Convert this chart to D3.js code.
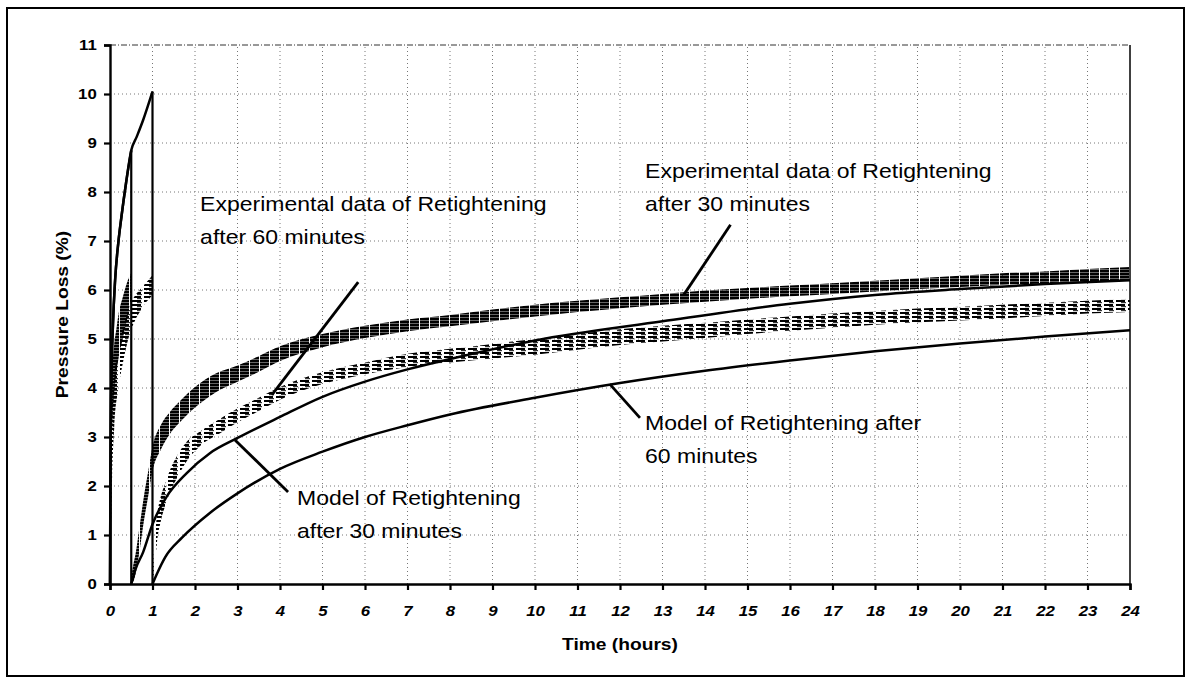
<!DOCTYPE html>
<html>
<head>
<meta charset="utf-8">
<script src="https://cdn.jsdelivr.net/npm/d3@7"></script>
<style>
body { margin: 0; background: #fff; }
text { font-family: Arial, "Liberation Sans", sans-serif; fill: #000; }
</style>
</head>
<body>
<script>
// Ticks
const xTicks = [0, 1, 2, 3, 4, 5, 6, 7, 8, 9, 10, 11, 12, 13, 14, 15, 16, 17, 18, 19, 20, 21, 22, 23, 24]
const yTicks = [0, 1, 2, 3, 4, 5, 6, 7, 8, 9, 10, 11]

// Modele : retightening après 30 minutes (avant / après)
const model30BeforeTime = [0, 0.01, 0.03, 0.07, 0.12, 0.2, 0.27, 0.38, 0.5]
const model30BeforeLoss = [0, 2.2, 4.0, 5.3, 6.2, 7.0, 7.5, 8.2, 8.85]
const model30AfterTime = [0.5, 0.6, 0.78, 1, 1.33, 1.8, 2.35, 3, 4, 5, 6, 7, 8, 10, 13, 16, 18, 20, 22, 24]
const model30AfterLoss = [0, 0.3, 0.65, 1.22, 1.78, 2.26, 2.67, 2.98, 3.41, 3.82, 4.13, 4.38, 4.59, 4.97, 5.36, 5.72, 5.9, 6.02, 6.12, 6.2]

// Modele : retightening après 60 minutes
const model60BeforeTime = [0, 0.01, 0.03, 0.07, 0.12, 0.2, 0.27, 0.38, 0.5, 0.63, 0.78, 1]
const model60BeforeLoss = [0, 2.2, 4.0, 5.3, 6.2, 7.0, 7.5, 8.2, 8.85, 9.13, 9.47, 10.05]
const model60AfterTime = [1, 1.1, 1.3, 1.7, 2.35, 3, 4, 5, 6, 7, 8, 10, 12, 14, 16, 18, 20, 22, 24]
const model60AfterLoss = [0, 0.2, 0.55, 0.95, 1.45, 1.85, 2.35, 2.7, 3.0, 3.24, 3.46, 3.8, 4.1, 4.35, 4.56, 4.75, 4.91, 5.05, 5.18]

const exp30BeforeTime = [0, 0.01, 0.03, 0.06, 0.1, 0.15, 0.2, 0.3, 0.4, 0.5]
const exp30BeforeLow = [0, 1.2, 2.5, 3.4, 3.9, 4.3, 4.6, 5.0, 5.4, 5.8]
const exp30BeforeHigh = [0, 3.2, 4.0, 4.5, 4.9, 5.2, 5.5, 5.85, 6.15, 6.35]

const exp60BeforeTime = [0, 0.02, 0.05, 0.1, 0.2, 0.3, 0.4, 0.5, 0.6, 0.7, 0.8, 0.9, 1]
const exp60BeforeLow = [0, 1.0, 2.2, 3.2, 4.0, 4.5, 4.9, 5.2, 5.4, 5.55, 5.7, 5.8, 5.9]
const exp60BeforeHigh = [0, 2.5, 3.5, 4.2, 4.8, 5.2, 5.5, 5.75, 5.9, 6.0, 6.1, 6.2, 6.3]

const exp30AfterTime = [0.5, 0.55, 0.6, 0.7, 0.8, 0.9, 1.0, 1.2, 1.4, 1.7, 2.0, 2.5, 3, 3.5, 4, 5, 6, 7, 8, 9, 10, 11, 12, 13, 14, 15, 16, 17, 18, 19, 20, 21, 22, 23, 24]
const exp30AfterLow = [0, 0.05, 0.2, 0.7, 1.3, 1.8, 2.3, 2.75, 3.05, 3.35, 3.6, 3.92, 4.13, 4.33, 4.55, 4.83, 5.02, 5.16, 5.26, 5.36, 5.46, 5.55, 5.63, 5.7, 5.76, 5.82, 5.87, 5.92, 5.97, 6.02, 6.06, 6.1, 6.14, 6.17, 6.2]
const exp30AfterHigh = [0.15, 0.4, 0.6, 1.2, 1.8, 2.3, 2.8, 3.25, 3.5, 3.78, 4.02, 4.3, 4.46, 4.65, 4.85, 5.1, 5.27, 5.4, 5.49, 5.6, 5.7, 5.78, 5.85, 5.92, 5.99, 6.04, 6.09, 6.14, 6.19, 6.24, 6.29, 6.34, 6.38, 6.43, 6.47]

const exp60AfterTime = [1.0, 1.05, 1.1, 1.2, 1.3, 1.4, 1.6, 1.8, 2.1, 2.6, 3, 3.5, 4, 5, 6, 7, 8, 9, 10, 11, 12, 13, 14, 15, 16, 17, 18, 19, 20, 21, 22, 23, 24]
const exp60AfterLow = [0, 0.3, 0.8, 1.3, 1.6, 1.85, 2.2, 2.5, 2.8, 3.08, 3.3, 3.53, 3.76, 4.08, 4.28, 4.43, 4.52, 4.6, 4.68, 4.78, 4.88, 4.95, 5.02, 5.1, 5.17, 5.23, 5.29, 5.34, 5.38, 5.42, 5.47, 5.52, 5.55]
const exp60AfterHigh = [0.2, 0.9, 1.35, 1.8, 2.05, 2.3, 2.65, 2.9, 3.1, 3.38, 3.58, 3.8, 4.02, 4.32, 4.52, 4.7, 4.8, 4.9, 5.0, 5.1, 5.2, 5.27, 5.33, 5.4, 5.46, 5.52, 5.57, 5.62, 5.66, 5.7, 5.74, 5.78, 5.82]

// Annotations (texte + flèche, en unités du graphe)
const annotations = [
    { lines: ['Experimental data of Retightening', 'after 60 minutes'], tx: 2.12, ty: 7.61, from: [5.84, 6.16], to: [3.81, 3.86] },
    { lines: ['Experimental data of Retightening', 'after 30 minutes'], tx: 12.59, ty: 8.29, from: [14.6, 7.33], to: [13.5, 5.9] },
    { lines: ['Model of Retightening after', '60 minutes'], tx: 12.59, ty: 3.14, from: [11.76, 4.08], to: [12.47, 3.39] },
    { lines: ['Model of Retightening', 'after 30 minutes'], tx: 4.4, ty: 1.61, from: [2.94, 2.94], to: [4.19, 1.88] }
]

const width = 1189, height = 680
const stretch = 1.15 // le scan est étiré horizontalement

const svg = d3.select('body').append('svg')
    .attr('width', width)
    .attr('height', height)

// motifs pour imiter les tirets des points expérimentaux
const defs = svg.append('defs')
const p30 = defs.append('pattern').attr('id', 'dash30')
    .attr('width', 10).attr('height', 3).attr('patternUnits', 'userSpaceOnUse')
p30.append('rect').attr('width', 9).attr('height', 2.6).attr('fill', '#000')
const p60 = defs.append('pattern').attr('id', 'dash60')
    .attr('width', 12).attr('height', 4).attr('patternUnits', 'userSpaceOnUse')
p60.append('rect').attr('x', 0).attr('y', 0).attr('width', 9).attr('height', 2).attr('fill', '#000')
p60.append('rect').attr('x', 5).attr('y', 2).attr('width', 5).attr('height', 1.2).attr('fill', '#333')

// cadre extérieur
svg.append('rect')
    .attr('x', 7).attr('y', 8)
    .attr('width', 1177).attr('height', 668)
    .attr('fill', 'none')
    .attr('stroke', '#000')
    .attr('stroke-width', 2)

const x = d3.scaleLinear().domain([0, 24]).range([110, 1130])
const y = d3.scaleLinear().domain([0, 11]).range([584, 45])

// grille pointillée
svg.append('g')
    .selectAll('line')
    .data(xTicks.slice(1, -1))
    .join('line')
    .attr('x1', d => x(d)).attr('x2', d => x(d))
    .attr('y1', y(0)).attr('y2', y(11))
    .attr('stroke', '#777')
    .attr('stroke-width', 1)
    .attr('stroke-dasharray', '1,3')

svg.append('g')
    .selectAll('line')
    .data(yTicks.slice(1, -1))
    .join('line')
    .attr('x1', x(0)).attr('x2', x(24))
    .attr('y1', d => y(d)).attr('y2', d => y(d))
    .attr('stroke', '#777')
    .attr('stroke-width', 1)
    .attr('stroke-dasharray', '1,3')

// bord haut pointillé, bord droit plein
svg.append('line')
    .attr('x1', x(0)).attr('x2', x(24))
    .attr('y1', y(11)).attr('y2', y(11))
    .attr('stroke', '#333')
    .attr('stroke-dasharray', '6,2,1,2')
svg.append('line')
    .attr('x1', x(24)).attr('x2', x(24))
    .attr('y1', y(11)).attr('y2', y(0))
    .attr('stroke', '#000')
    .attr('stroke-width', 1.5)

// bandes expérimentales
const area = d3.area()
    .x(d => x(d[0]))
    .y0(d => y(d[1]))
    .y1(d => y(d[2]))
    .curve(d3.curveMonotoneX)

const bands = [
    { t: exp60BeforeTime, lo: exp60BeforeLow, hi: exp60BeforeHigh, fill: 'url(#dash60)' },
    { t: exp60AfterTime, lo: exp60AfterLow, hi: exp60AfterHigh, fill: 'url(#dash60)' },
    { t: exp30BeforeTime, lo: exp30BeforeLow, hi: exp30BeforeHigh, fill: 'url(#dash30)' },
    { t: exp30AfterTime, lo: exp30AfterLow, hi: exp30AfterHigh, fill: 'url(#dash30)' }
]

svg.append('g')
    .selectAll('path')
    .data(bands)
    .join('path')
    .attr('d', b => area(d3.zip(b.t, b.lo, b.hi)))
    .attr('fill', b => b.fill)

// courbes du modèle
const line = d3.line()
    .x(d => x(d[0]))
    .y(d => y(d[1]))
    .curve(d3.curveMonotoneX)

const models = [
    { bt: model30BeforeTime, bl: model30BeforeLoss, at: model30AfterTime, al: model30AfterLoss },
    { bt: model60BeforeTime, bl: model60BeforeLoss, at: model60AfterTime, al: model60AfterLoss }
]

models.forEach(m => {
    const before = d3.zip(m.bt, m.bl)
    const after = d3.zip(m.at, m.al)
    svg.append('path')
        .attr('d', line(before))
        .attr('fill', 'none').attr('stroke', '#000').attr('stroke-width', 2.5)
    svg.append('path')
        .attr('d', line(after))
        .attr('fill', 'none').attr('stroke', '#000').attr('stroke-width', 2.5)
    // chute verticale au resserrage
    svg.append('line')
        .attr('x1', x(before[before.length - 1][0])).attr('x2', x(after[0][0]))
        .attr('y1', y(before[before.length - 1][1])).attr('y2', y(after[0][1]))
        .attr('stroke', '#000').attr('stroke-width', 2.2)
})

// axes
const xAxis = svg.append('g')
    .attr('transform', `translate(0, ${y(0)})`)
    .call(d3.axisBottom(x).tickValues(xTicks).tickSize(6).tickPadding(16))
xAxis.select('.domain').attr('stroke-width', 2.4)
xAxis.selectAll('.tick line').attr('stroke-width', 2.2)
xAxis.selectAll('.tick text')
    .attr('transform', `scale(1.2, 1)`)
    .style('font-size', '14px')
    .style('font-weight', 'bold')
    .style('font-style', 'italic')
    .style('font-family', 'Arial, "Liberation Sans", sans-serif')

const yAxis = svg.append('g')
    .attr('transform', `translate(${x(0)}, 0)`)
    .call(d3.axisLeft(y).tickValues(yTicks).tickSize(6).tickPadding(5))
yAxis.select('.domain').attr('stroke-width', 2.4)
yAxis.selectAll('.tick line').attr('stroke-width', 2.2)
yAxis.selectAll('.tick text')
    .attr('transform', `scale(1.2, 1)`)
    .style('font-size', '14px')
    .style('font-weight', 'bold')
    .style('font-family', 'Arial, "Liberation Sans", sans-serif')

// titres des axes
svg.append('text')
    .attr('transform', `translate(620, 650) scale(1.2, 1)`)
    .attr('text-anchor', 'middle')
    .style('font-size', '16px')
    .style('font-weight', 'bold')
    .text('Time (hours)')

svg.append('text')
    .attr('transform', `translate(68, ${y(5.5)}) rotate(-90) scale(1.2, 1)`)
    .attr('text-anchor', 'middle')
    .style('font-size', '16px')
    .style('font-weight', 'bold')
    .text('Pressure Loss (%)')

// annotations
annotations.forEach(a => {
    svg.append('line')
        .attr('x1', x(a.from[0])).attr('y1', y(a.from[1]))
        .attr('x2', x(a.to[0])).attr('y2', y(a.to[1]))
        .attr('stroke', '#000')
        .attr('stroke-width', 2.8)
    const t = svg.append('text')
        .attr('transform', `translate(${x(a.tx)}, ${y(a.ty)}) scale(${stretch}, 1)`)
        .style('font-size', '20px')
    a.lines.forEach((l, i) => {
        t.append('tspan')
            .attr('x', 0)
            .attr('dy', i === 0 ? 0 : 33)
            .text(l)
    })
})
</script>
</body>
</html>
